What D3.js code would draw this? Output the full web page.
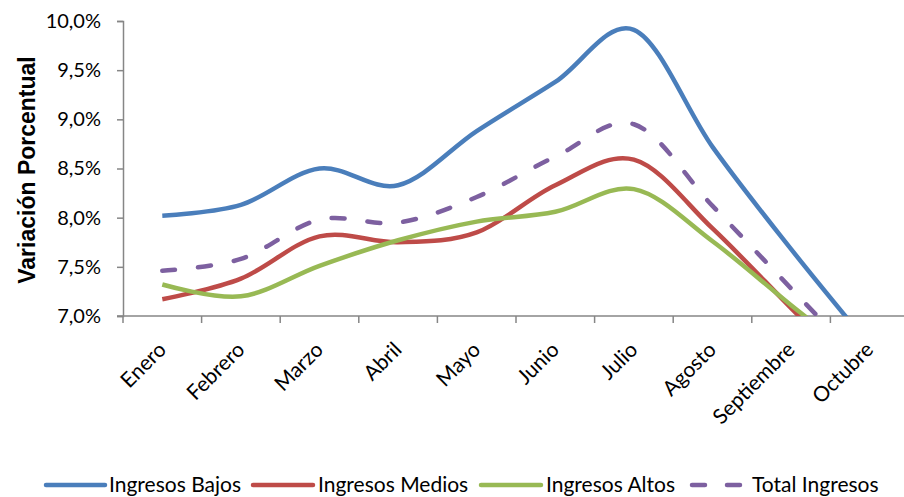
<!DOCTYPE html>
<html><head><meta charset="utf-8">
<script src="https://cdn.jsdelivr.net/npm/d3@7"></script>
<style>body{margin:0;background:#fff}svg{display:block}</style>
</head><body>
<svg id="c" width="904" height="497"></svg>
<script>
const categories = ["Enero","Febrero","Marzo","Abril","Mayo","Junio","Julio","Agosto","Septiembre","Octubre"];
const bajos  = [8.02, 8.13, 8.50, 8.33, 8.88, 9.38, 9.91, 8.72, 7.68, 6.70];
const medios = [7.17, 7.38, 7.81, 7.75, 7.85, 8.33, 8.59, 7.89, 7.08, 6.27];
const altos  = [7.32, 7.20, 7.51, 7.77, 7.96, 8.06, 8.29, 7.76, 7.11, 6.48];
const total  = [7.46, 7.58, 7.98, 7.95, 8.21, 8.62, 8.95, 8.12, 7.28, 6.44];
const seriesNames = ["Ingresos Bajos","Ingresos Medios","Ingresos Altos","Total Ingresos"];
const yTicks = [7.0, 7.5, 8.0, 8.5, 9.0, 9.5, 10.0];

const series = [
  {name: seriesNames[0], values: bajos,  color: "#4a7ebb", dash: null},
  {name: seriesNames[1], values: medios, color: "#be4b48", dash: null},
  {name: seriesNames[2], values: altos,  color: "#98b954", dash: null},
  {name: seriesNames[3], values: total,  color: "#7d60a0", dash: "13,23"}
];

const svg = d3.select("#c");
const mLeft = 123, mRight = 909, mTop = 21, mBottom = 316;
const x = d3.scaleBand().domain(categories).range([mLeft, mRight]).padding(0);
const y = d3.scaleLinear().domain([7, 10]).range([mBottom, mTop]);
const cx = c => x(c) + x.bandwidth() / 2;
const font = "Lato, 'Open Sans', sans-serif";
const axisColor = "#868686";

svg.append("defs").append("clipPath").attr("id", "plot")
  .append("rect").attr("x", mLeft).attr("y", 0).attr("width", 904 - mLeft).attr("height", mBottom);

// Y axis
const yAxis = svg.append("g").attr("transform", `translate(${mLeft},0)`)
  .call(d3.axisLeft(y).tickValues(yTicks).tickSize(6).tickPadding(16)
    .tickFormat(d => d3.format(".1f")(d).replace(".", ",") + "%"));
yAxis.select(".domain").attr("stroke", axisColor).attr("stroke-width", 1.5);
yAxis.selectAll(".tick line").attr("stroke", axisColor).attr("stroke-width", 1.5);
yAxis.selectAll(".tick text").attr("font-family", font).attr("font-size", 20).attr("fill", "#000");

// X axis
const xAxis = svg.append("g").attr("transform", `translate(0,${mBottom})`)
  .call(d3.axisBottom(x).tickSize(0).tickFormat(""));
xAxis.select(".domain").remove();
xAxis.append("line").attr("x1", mLeft - 6).attr("x2", 904).attr("y1", 0).attr("y2", 0)
  .attr("stroke", axisColor).attr("stroke-width", 1.5);
xAxis.selectAll(".tickmark").data(categories).enter().append("line")
  .attr("x1", d => x(d)).attr("x2", d => x(d)).attr("y1", 0).attr("y2", 7)
  .attr("stroke", axisColor).attr("stroke-width", 1.5);
xAxis.selectAll(".lbl").data(categories).enter().append("text")
  .attr("transform", d => `translate(${cx(d) + 5},${35}) rotate(-45)`)
  .attr("text-anchor", "end")
  .attr("font-family", font).attr("font-size", 21).attr("fill", "#000")
  .text(d => d);

// Y title
svg.append("text").attr("transform", `translate(35,170) rotate(-90)`)
  .attr("text-anchor", "middle").attr("font-family", "'Liberation Sans', Arial, sans-serif")
  .attr("font-weight", "bold").attr("font-size", 23).attr("fill", "#000")
  .text("Variación Porcentual");

// Lines
const line = d3.line().x((d, i) => cx(categories[i])).y(d => y(d)).curve(d3.curveCardinal.tension(0));
const g = svg.append("g").attr("clip-path", "url(#plot)");
series.forEach(s => {
  g.append("path").datum(s.values).attr("d", line)
    .attr("fill", "none").attr("stroke", s.color).attr("stroke-width", 4.5)
    .attr("stroke-linecap", s.dash ? "round" : "butt").attr("stroke-linejoin", "round")
    .attr("stroke-dasharray", s.dash);
});

// Legend
const legendItems = [
  {x0: 46, x1: 105, tx: 109},
  {x0: 253, x1: 313, tx: 318},
  {x0: 481, x1: 541, tx: 546},
  {x0: 692, x1: 742, tx: 752}
];
const ly = 485;
const lg = svg.append("g");
series.forEach((s, i) => {
  const L = legendItems[i];
  lg.append("line").attr("x1", L.x0).attr("x2", L.x1).attr("y1", ly).attr("y2", ly)
    .attr("stroke", s.color).attr("stroke-width", 4.5)
    .attr("stroke-linecap", "round")
    .attr("stroke-dasharray", s.dash ? "13,22" : null);
  lg.append("text").attr("x", L.tx).attr("y", ly).attr("dy", "0.35em")
    .attr("font-family", font).attr("font-size", 21).attr("fill", "#000")
    .text(s.name);
});
</script>
</body></html>
